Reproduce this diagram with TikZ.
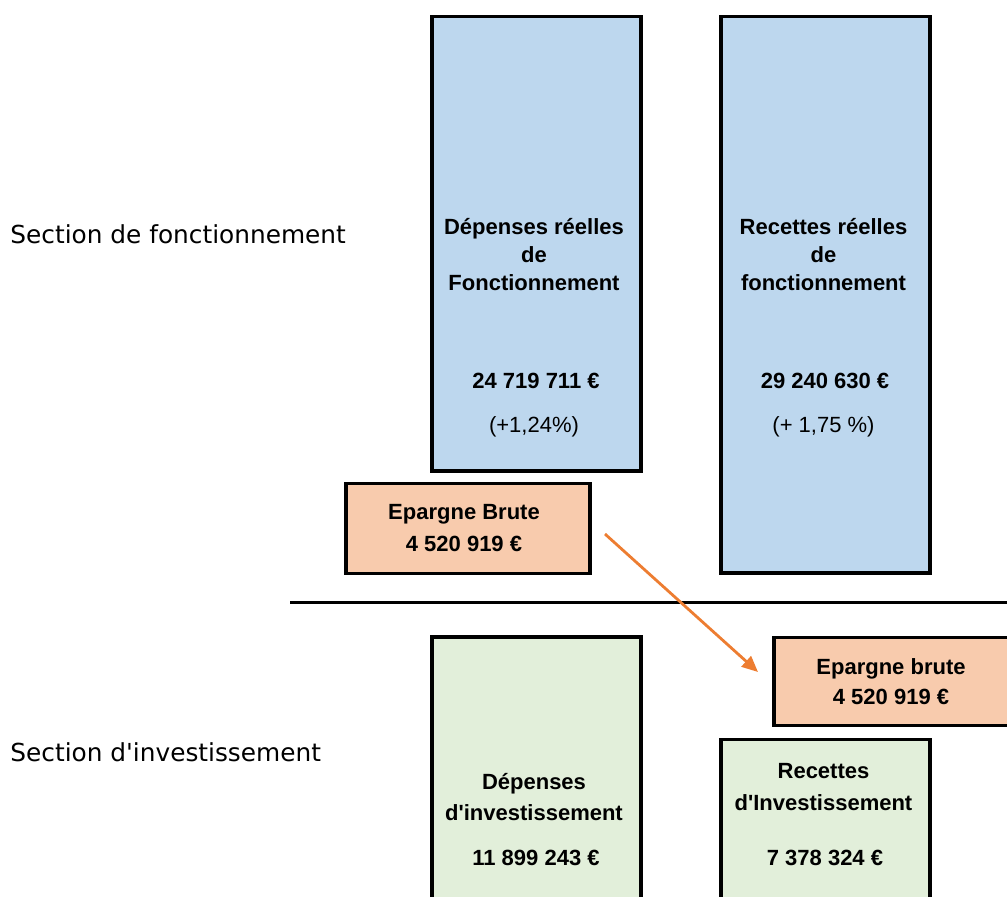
\documentclass[tikz,border=0pt]{standalone}
\usepackage{fontspec}
\setmainfont{Liberation Sans}
\newfontfamily\secfont{DejaVu Sans}
\usetikzlibrary{arrows.meta}
\definecolor{fblue}{HTML}{BDD7EE}
\definecolor{forange}{HTML}{F8CBAD}
\definecolor{fgreen}{HTML}{E2EFDA}
\definecolor{farrow}{HTML}{ED7D31}
\tikzset{
  box/.style={draw=black, line width=1.75pt, rectangle, inner sep=0pt, anchor=north west},
  bluebox/.style={box, fill=fblue},
  orangebox/.style={box, fill=forange},
  greenbox/.style={box, fill=fgreen},
  bt/.style={anchor=base, inner sep=0pt, font=\fontsize{11pt}{13pt}\selectfont\bfseries},
  rt/.style={anchor=base, inner sep=0pt, font=\fontsize{11pt}{13pt}\selectfont},
  sec/.style={anchor=base west, inner sep=0pt, font=\fontsize{12.4pt}{14pt}\secfont},
  flow/.style={draw=farrow, line width=1.4pt, -{Triangle[length=8pt,width=7pt]}}
}
\begin{document}
\begin{tikzpicture}[x=0.5pt,y=-0.5pt]
\useasboundingbox (0,0) rectangle (1007,896);
\clip (0,0) rectangle (1007,896);
% boxes
\node[bluebox, minimum width=104.5pt, minimum height=227.25pt] (dpf) at (430,14.5) {};
\node[bluebox, minimum width=104.5pt, minimum height=278.25pt] (rrf) at (719,14.5) {};
\node[orangebox, minimum width=122pt, minimum height=45pt] (eb1) at (344,481.5) {};
\node[orangebox, minimum width=125pt, minimum height=44pt] (eb2) at (772,635.5) {};
\node[greenbox, minimum width=104.5pt, minimum height=150pt] (di) at (430,635) {};
\node[greenbox, minimum width=104.5pt, minimum height=100pt] (ri) at (719,737.5) {};
% separator line
\coordinate (l1) at (290,602.5);
\coordinate (l2) at (1010,602.5);
\draw[line width=1.5pt] (l1) -- (l2);
% texts blue left
\node[bt] (t1) at (534,234) {Dépenses réelles};
\node[bt] (t2) at (534,262) {de};
\node[bt] (t3) at (534,290) {Fonctionnement};
\node[bt] (t4) at (536,388) {24 719 711 €};
\node[rt] (t5) at (534,432) {(+1,24\%)};
% texts blue right
\node[bt] (u1) at (823.5,234) {Recettes réelles};
\node[bt] (u2) at (823.5,262) {de};
\node[bt] (u3) at (823.5,290) {fonctionnement};
\node[bt] (u4) at (825,388) {29 240 630 €};
\node[rt] (u5) at (823.5,432) {(+ 1,75 \%)};
% orange
\node[bt] (e1) at (464,519) {Epargne Brute};
\node[bt] (e2) at (464,551) {4 520 919 €};
\node[bt] (f1) at (891,674) {Epargne brute};
\node[bt] (f2) at (891,704) {4 520 919 €};
% green
\node[bt] (g1) at (534,789) {Dépenses};
\node[bt] (g2) at (534,820) {d\textquotesingle investissement};
\node[bt] (g3) at (536,865.5) {11 899 243 €};
\node[bt] (h1) at (823.5,778) {Recettes};
\node[bt] (h2) at (823.5,810) {d\textquotesingle Investissement};
\node[bt] (h3) at (825,865.5) {7 378 324 €};
% section labels
\node[sec] (s1) at (10,243) {Section de fonctionnement};
\node[sec] (s2) at (10,761) {Section d\textquotesingle investissement};
% arrow
\coordinate (a1) at (605,534);
\coordinate (a2) at (758,672);
\draw[flow] (a1) -- (a2);
\end{tikzpicture}
\end{document}
